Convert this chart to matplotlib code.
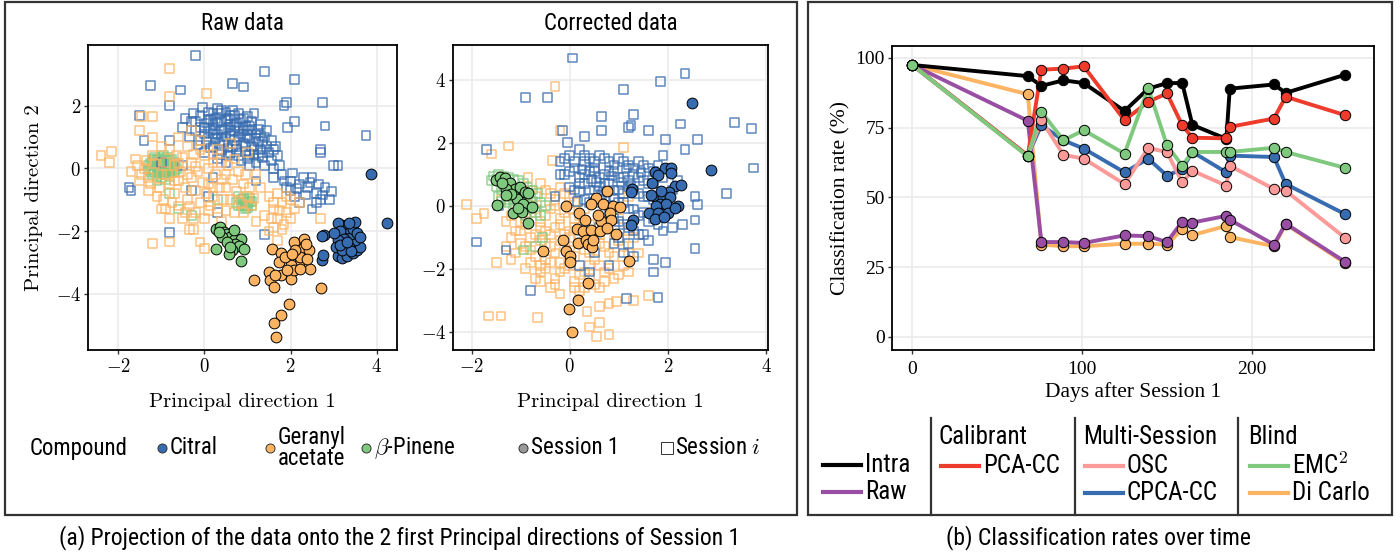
import numpy as np
import matplotlib
matplotlib.use("Agg")
import matplotlib.pyplot as plt
from matplotlib.lines import Line2D
from matplotlib.patches import Rectangle
from matplotlib.ticker import FuncFormatter

plt.rcParams['mathtext.fontset'] = 'cm'

SANS = ['Roboto Condensed', 'Liberation Sans Narrow', 'Lato', 'DejaVu Sans']
SERIF = ['Liberation Serif', 'DejaVu Serif']
CM = ['cmr10', 'DejaVu Serif']

BLUE = "#386CB0"
ORANGE = "#FDB462"
GREEN = "#7FC97F"

# ---------------- panel (a) raw data ----------------
raw_blue_s1 = [(3.87, -0.17), (4.23, -1.74), (2.77, -2.12), (2.74, -2.16), (2.72, -2.92), (2.76, -2.78),
               (3.1, -2.8), (3.2, -2.85), (3.3, -2.8), (3.45, -2.7), (3.55, -2.6), (3.6, -2.5), (3.5, -2.3),
               (3.4, -2.1), (3.3, -1.9), (3.2, -1.8), (3.1, -1.75), (3.15, -2.0), (3.25, -2.25), (3.35, -2.5),
               (3.45, -1.95), (3.55, -2.05), (3.6, -2.2), (3.1, -2.3), (3.05, -2.5), (3.2, -2.6), (3.4, -2.65),
               (3.5, -1.7), (3.35, -1.75), (3.0, -2.05), (3.15, -2.45), (3.3, -2.35)]
raw_orange_s1 = [(1.57, -2.56), (1.77, -2.69), (2.07, -2.35), (2.31, -2.27), (2.27, -2.56), (2.42, -2.61),
                 (2.46, -3.2), (2.19, -3.04), (2.0, -3.09), (1.73, -2.99), (1.49, -3.3), (1.53, -3.57),
                 (1.61, -3.78), (1.78, -3.41), (2.0, -3.52), (2.07, -3.25), (1.15, -3.57), (2.71, -3.81),
                 (1.97, -4.32), (1.77, -4.69), (1.61, -4.94), (1.67, -5.4), (2.23, -2.82), (2.39, -2.88),
                 (1.88, -2.82), (2.11, -2.61), (1.92, -3.25), (1.64, -3.41), (2.23, -3.2), (2.35, -2.4),
                 (2.04, -2.72)]
raw_green_s1 = [(0.26, -1.92), (0.37, -1.87), (0.45, -2.03), (0.53, -2.08), (0.6, -2.19), (0.68, -2.29),
                (0.84, -2.27), (0.72, -2.42), (0.8, -2.48), (0.91, -2.56), (0.64, -2.61), (0.57, -2.72),
                (0.84, -2.95), (0.26, -2.56), (0.41, -2.19), (0.33, -2.03), (0.53, -2.35), (0.68, -1.97),
                (0.6, -2.5)]
raw_blue_si = [(-0.2, 3.6), (1.4, 3.1), (0.65, 2.7), (0.9, 2.6), (2.1, 2.85), (1.9, 2.1), (1.85, 2.0),
               (2.75, 2.1), (2.1, 1.5), (1.93, 1.3), (2.8, 1.35), (3.75, 1.05), (-1.25, 2.65), (-0.55, 2.5),
               (-0.8, 2.0), (-1.5, 1.7), (-1.4, 0.9), (-1.7, -0.7), (-1.75, -0.6), (-0.8, -2.05), (2.7, 0.6),
               (2.7, 0.5), (3.1, 0.1), (3.0, 0.1), (2.7, -1.0), (2.9, -1.0), (2.5, -1.3), (2.0, -0.7),
               (1.4, -2.1), (0.3, -1.4),
               (-0.3, 1.5), (-0.1, 1.7), (0.1, 1.8), (0.3, 1.9), (0.5, 1.8), (0.7, 1.7), (0.9, 1.6), (1.1, 1.5),
               (1.3, 1.4), (-0.2, 1.2), (0.0, 1.3), (0.2, 1.4), (0.4, 1.5), (0.6, 1.4), (0.8, 1.3), (1.0, 1.2),
               (1.2, 1.1), (1.4, 1.0), (-0.1, 0.9), (0.1, 1.0), (0.3, 1.1), (0.5, 1.0), (0.7, 0.9), (0.9, 0.8),
               (1.1, 0.7), (1.3, 0.6), (1.5, 0.5), (0.2, 0.7), (0.4, 0.6), (0.6, 0.5), (0.8, 0.4), (1.0, 0.3),
               (1.2, 0.2), (1.4, 0.1), (1.6, 0.0), (0.0, 0.5), (0.3, 0.3), (0.5, 0.2), (1.8, -0.2), (2.0, -0.4),
               (2.2, -0.5), (2.4, -0.6), (2.6, -0.8), (2.3, -0.3), (2.5, -0.3), (1.9, -0.6), (2.1, -0.9),
               (2.8, -0.6), (2.6, -1.1), (1.7, 0.4), (1.6, -0.3), (1.2, -0.4), (0.7, 1.2), (0.25, 1.6),
               (0.55, 1.6), (0.85, 1.1), (1.05, 0.95), (0.15, 1.2), (0.45, 0.85), (0.65, 0.7), (0.95, 0.55),
               (-0.5, 0.1), (-0.3, -0.7), (0.1, -0.9), (-0.8, 0.9), (-0.5, 1.3), (0.2, -0.3), (-1.0, 0.2),
               (-0.25, 1.75), (-0.05, 1.95), (0.15, 1.55), (0.35, 1.75), (0.45, 1.25), (0.65, 1.85), (0.75, 1.45),
               (0.95, 1.35), (1.15, 1.75), (1.25, 1.25), (1.35, 0.85), (1.45, 1.2), (-0.15, 0.75), (0.05, 0.85),
               (0.25, 0.95), (0.35, 0.45), (0.55, 0.4), (0.75, 0.6), (0.85, 0.25), (1.05, 0.1), (1.15, 0.45),
               (1.25, 0.85), (1.35, 0.35), (1.55, 0.25), (1.65, 0.7), (1.75, 0.1), (1.85, -0.4), (2.05, -0.15),
               (2.15, -0.65), (2.35, -0.85), (2.45, -0.45), (2.65, -0.5), (2.75, -0.85), (2.95, -0.75),
               (2.2, -1.1), (0.05, 1.45), (0.25, 1.25), (0.55, 1.3), (0.85, 1.55), (1.05, 1.35), (0.6, 1.05),
               (0.4, 1.2), (0.15, 0.65), (0.95, 1.0), (1.55, 0.9), (1.6, 0.6), (-0.35, 1.0), (-0.45, 1.6),
               (0.0, 1.1), (0.2, 1.1), (0.4, 1.0), (0.6, 1.2), (0.8, 1.0), (1.0, 1.05), (1.2, 0.95), (0.1, 1.55),
               (0.3, 1.45), (0.5, 1.55), (0.7, 1.35), (0.9, 1.2), (1.1, 1.25), (1.3, 1.05), (0.35, 0.8),
               (0.55, 0.65), (0.75, 0.75), (0.95, 0.7), (1.15, 0.6), (1.35, 0.5), (0.6, 1.7), (0.8, 1.75),
               (1.0, 1.65), (0.2, 1.75), (0.4, 1.85), (-0.1, 1.3), (-0.2, 1.5), (1.45, 0.7), (1.25, 0.4),
               (1.05, 0.45)]
raw_orange_si = [(-0.8, 3.2), (-0.8, 2.3), (0.05, 2.4), (-1.2, 1.65), (-1.45, 1.65), (-2.4, 0.4), (-2.15, 0.55),
                 (-2.2, 0.2), (-1.5, 1.2), (-1.2, -2.4), (-0.8, -2.35), (-0.35, -1.95), (-0.25, -1.95),
                 (-0.1, -2.35), (0.0, -2.55), (2.7, -1.6), (1.6, -1.9), (1.5, -2.0), (1.7, -2.3),
                 (-1.6, 0.3), (-1.4, 0.0), (-1.5, -0.4), (-1.3, -0.7), (-1.2, 0.4), (-1.0, -0.2), (-1.1, -0.9),
                 (-0.9, -1.3), (-0.8, 0.6), (-0.7, 0.1), (-0.6, -0.4), (-0.7, -0.8), (-0.6, -1.2), (-0.5, -1.6),
                 (-0.4, 0.7), (-0.3, 0.2), (-0.3, -0.3), (-0.2, -0.7), (-0.1, -1.1), (-0.2, -1.4), (0.0, 0.4),
                 (0.1, 0.0), (0.1, -0.5), (0.2, -0.9), (0.3, -1.3), (0.0, -1.6), (0.3, 0.6), (0.4, 0.2),
                 (0.5, -0.2), (0.5, -0.6), (0.6, -1.0), (0.7, -1.4), (0.7, 0.3), (0.8, -0.1), (0.9, -0.5),
                 (1.0, -0.9), (1.1, -1.2), (1.0, 0.5), (1.2, -0.2), (1.3, -0.6), (1.5, -0.9), (1.7, -0.8),
                 (1.8, -1.1), (1.9, -1.4), (1.7, -1.6), (2.0, -1.0), (2.1, -1.3), (1.85, -1.8), (1.6, -1.3),
                 (-0.9, 0.2), (-1.3, -0.3), (-0.4, -1.0), (-0.8, -0.5), (0.2, 0.2), (-0.5, 0.35), (-1.0, 0.7),
                 (-1.7, -0.1), (0.4, -1.7), (-0.1, 0.9), (0.6, 0.8), (-0.6, 1.0), (1.4, -1.5), (1.2, -1.7),
                 (-1.2, 1.0), (-0.3, 1.2),
                 (-1.55, 0.1), (-1.45, -0.2), (-1.35, 0.25), (-1.25, -0.5), (-1.15, 0.15), (-1.05, -0.6),
                 (-0.95, -1.0), (-0.85, -0.2), (-0.75, -1.1), (-0.65, 0.4), (-0.55, -0.1), (-0.45, -0.6),
                 (-0.35, -1.2), (-0.25, 0.45), (-0.15, -0.1), (-0.05, -0.45), (0.05, -0.8), (0.15, -1.2),
                 (0.25, -0.2), (0.35, -0.6), (0.45, -1.0), (0.55, 0.1), (0.65, -0.35), (0.75, -0.75),
                 (0.85, -1.1), (0.95, -0.2), (1.05, -0.6), (1.15, -0.95), (-0.45, -1.4), (-0.25, -1.6),
                 (0.1, -1.35), (0.5, -1.35), (-0.8, -1.6), (-0.6, 0.15), (-0.2, 0.05), (0.2, -0.6), (0.4, -0.35),
                 (-0.4, -0.2), (-1.0, -1.3), (-0.1, 0.6), (0.2, 0.45), (-0.7, -0.4), (1.6, -1.1), (1.75, -1.35),
                 (1.9, -0.9), (2.0, -1.6), (1.55, -1.6), (1.8, -1.95), (2.2, -1.1), (0.9, -1.4)]
raw_green_si = [(-1.2, 0.2), (-1.1, 0.3), (-1.0, 0.35), (-0.9, 0.3), (-0.8, 0.25), (-0.7, 0.2), (-1.2, 0.0),
                (-1.1, 0.05), (-1.0, 0.1), (-0.9, 0.05), (-0.8, 0.0), (-0.7, 0.05), (-1.15, -0.15),
                (-1.05, -0.1), (-0.95, -0.15), (-0.85, -0.1), (-0.75, -0.15), (-1.3, 0.1), (-0.65, 0.0),
                (-1.0, -0.3), (-0.9, -0.35), (-1.1, -0.4), (0.8, -0.9), (0.9, -1.0), (1.0, -1.1), (0.85, -1.2),
                (0.95, -1.3), (1.05, -0.95), (0.75, -1.1), (1.1, -1.2), (-0.8, -0.8), (-0.6, -1.3),
                (-0.3, -1.5), (0.3, -1.0),
                (-1.25, 0.15), (-1.15, 0.25), (-1.05, 0.2), (-0.95, 0.2), (-0.85, 0.15), (-0.75, 0.1),
                (-1.25, -0.1), (-1.15, -0.05), (-1.05, 0.0), (-0.95, -0.05), (-0.85, -0.05), (-0.75, -0.05),
                (-1.1, -0.25), (-1.0, -0.2), (-0.9, -0.2), (-0.8, -0.25), (-0.7, -0.1), (-1.05, 0.3),
                (-0.85, 0.35), (0.85, -1.0), (0.95, -1.1), (0.9, -1.2), (1.0, -1.25), (0.8, -1.2), (1.05, -1.05),
                (-1.2, 0.3), (-1.1, 0.15), (-1.0, 0.25), (-0.9, 0.15), (-0.8, 0.1), (-0.7, -0.05), (-1.2, -0.2),
                (-1.1, -0.1), (-1.0, -0.05), (-0.9, -0.1), (-0.8, -0.15), (-0.95, 0.4), (-1.15, 0.35),
                (-0.75, 0.3), (-1.3, -0.05), (0.9, -0.95), (1.0, -1.2), (0.85, -1.1), (0.95, -1.2), (1.1, -1.05)]

# ---------------- panel (a) corrected data ----------------
cor_green_s1 = [(-1.51, 0.82), (-1.42, 0.92), (-1.32, 0.87), (-1.49, 0.02), (-1.22, 0.71), (-1.12, 0.55),
                (-1.02, 0.6), (-0.92, 0.44), (-0.85, 0.41), (-1.08, 0.23), (-0.95, 0.07), (-0.78, -0.03),
                (-1.15, -0.24), (-0.98, -0.19), (-0.86, -0.56), (-1.29, 0.55), (-1.39, 0.71), (-1.19, 0.39),
                (-1.05, -0.08), (-1.29, 0.34)]
cor_orange_s1 = [(0.76, 0.48), (0.53, 0.26), (0.44, 0.05), (0.68, 0.07), (0.88, 0.0), (-0.07, 0.0), (0.18, -0.22),
                 (0.81, -0.24), (0.64, -0.48), (0.85, -0.46), (0.14, -0.72), (0.26, -0.79), (0.44, -0.77),
                 (0.61, -0.79), (0.75, -0.69), (0.95, -0.91), (-0.14, -1.09), (0.17, -1.18), (0.34, -1.07),
                 (0.37, -1.22), (0.46, -1.32), (-0.08, -1.43), (0.0, -1.6), (0.01, -1.78), (-0.54, -1.43),
                 (1.21, -1.75), (0.38, -2.44), (0.16, -3.0), (-0.01, -3.29), (0.05, -4.0), (0.58, -0.3),
                 (0.31, -0.46), (1.02, -0.03), (0.47, -1.07)]
cor_blue_s1 = [(2.49, 3.28), (2.87, 1.13), (1.95, 1.21), (2.07, 1.21), (1.73, 1.08), (1.8, 0.97), (2.07, 1.03),
               (1.68, 0.71), (2.14, 0.64), (2.26, 0.66), (1.27, 0.53), (1.24, 0.44), (2.03, 0.44), (1.76, 0.29),
               (1.9, 0.29), (2.05, 0.29), (1.83, 0.07), (1.97, 0.07), (1.75, 0.0), (2.2, 0.0), (1.86, 0.47),
               (1.61, -0.22), (1.8, -0.24), (2.0, -0.24), (1.73, -0.42), (1.93, -0.35), (1.29, -0.46),
               (1.24, -0.61), (2.14, -0.08), (1.66, 0.34)]
cor_blue_si = [(0.05, 4.7), (1.1, 3.7), (1.85, 3.95), (2.35, 4.2), (-0.45, 3.45), (-0.9, 3.45), (0.65, 2.85),
               (1.3, 2.9), (0.65, 2.4), (1.2, 2.5), (1.25, 2.55), (1.6, 2.4), (2.25, 2.6), (1.95, 2.1),
               (2.35, 1.8), (2.6, 2.1), (3.35, 2.65), (3.7, 2.45), (3.75, 1.2), (3.2, 0.4), (2.55, 0.3),
               (2.6, 0.05), (2.55, -0.45), (2.55, -1.35), (2.3, -0.6), (-1.7, 1.8), (-1.45, 0.0), (-1.9, -1.15),
               (-1.3, -1.4), (-0.8, -2.7), (1.8, -2.9), (1.15, -2.95), (1.7, -2.1), (1.95, -1.8), (1.7, -1.7),
               (-0.05, 2.0), (-0.15, 2.4), (0.3, 2.2), (-0.2, 1.0), (0.5, 1.2),
               (-0.2, 1.4), (0.0, 1.6), (0.2, 1.8), (0.4, 1.5), (0.6, 1.6), (0.8, 1.4), (1.0, 1.5), (1.2, 1.3),
               (1.4, 1.4), (1.6, 1.2), (1.8, 1.3), (-0.1, 1.0), (0.1, 1.2), (0.3, 1.0), (0.5, 1.1), (0.7, 1.0),
               (0.9, 1.1), (1.1, 0.9), (1.3, 1.0), (1.5, 0.8), (1.7, 0.7), (0.0, 0.6), (0.2, 0.7), (0.4, 0.5),
               (0.6, 0.6), (0.8, 0.7), (1.0, 0.5), (1.2, 0.6), (1.4, 0.4), (1.6, 0.3), (0.3, 0.2), (0.5, 0.1),
               (0.7, 0.3), (0.9, 0.2), (1.1, 0.1), (1.3, -0.1), (1.5, -0.2), (1.7, -0.4), (0.8, -0.3),
               (1.0, -0.5), (1.2, -0.7), (1.4, -0.9), (1.6, -1.1), (1.9, -0.8), (2.1, -0.7), (0.6, -0.7),
               (0.9, -1.2), (1.1, -1.5), (1.3, -1.6), (0.3, 1.4), (0.85, 0.95), (1.15, 1.2), (0.45, 0.85),
               (0.65, 0.35), (1.05, 0.75), (0.2, 0.45), (-0.3, 0.3), (2.0, 0.4), (2.2, 0.8), (1.9, 1.6),
               (0.5, -1.5), (0.2, -1.9), (0.4, -2.1), (0.8, -1.9),
               (-0.1, 1.5), (0.1, 1.4), (0.3, 1.6), (0.5, 1.4), (0.7, 1.5), (0.9, 1.3), (1.1, 1.4), (1.3, 1.2),
               (1.5, 1.3), (1.7, 1.1), (0.0, 1.1), (0.2, 0.9), (0.4, 1.1), (0.6, 0.9), (0.8, 1.1), (1.0, 0.9),
               (1.2, 0.8), (1.4, 0.9), (1.6, 0.7), (0.1, 0.5), (0.3, 0.7), (0.5, 0.5), (0.7, 0.7), (0.9, 0.5),
               (1.1, 0.4), (1.3, 0.5), (1.5, 0.3), (1.7, 0.2), (0.4, 0.1), (0.6, 0.2), (0.8, 0.0), (1.0, 0.1),
               (1.2, -0.1), (1.4, -0.3), (1.6, -0.5), (0.9, -0.4), (1.1, -0.6), (1.3, -0.8), (1.5, -0.9),
               (1.8, -0.6), (2.0, -0.2), (1.9, 0.9), (2.1, 0.5), (0.25, 1.15), (0.55, 0.75), (0.75, 0.45),
               (1.25, 0.65), (1.45, 1.05), (0.15, 0.15), (1.0, -1.0), (1.2, -1.2)]
cor_orange_si = [(-0.3, 3.8), (-1.25, 1.9), (-1.6, 1.65), (-0.2, 2.4), (1.1, 1.85), (-2.1, 0.05), (-1.9, -0.4),
                 (-1.75, -0.25), (-0.35, 1.45), (-1.65, -3.5), (-1.4, -3.5), (-0.65, -3.55), (0.35, -3.35),
                 (0.6, -3.2), (0.95, -3.05), (0.8, -3.1), (1.3, -3.0), (0.4, -3.85), (0.6, -3.7), (0.8, -4.1),
                 (0.55, -4.15), (1.6, -2.85), (1.2, -2.1), (1.4, -1.5), (-0.5, -1.7),
                 (-1.2, 0.6), (-1.0, 0.3), (-0.8, 0.5), (-0.6, 0.7), (-0.4, 0.4), (-0.2, 0.6), (0.0, 0.3),
                 (-1.3, -0.5), (-1.1, -0.2), (-0.9, -0.4), (-0.7, -0.1), (-0.5, -0.3), (-0.3, 0.0), (-0.1, -0.2),
                 (0.1, -0.4), (0.3, -0.1), (-1.2, -1.0), (-1.0, -0.8), (-0.8, -1.0), (-0.6, -0.7), (-0.4, -0.9),
                 (-0.2, -0.6), (0.0, -0.8), (0.2, -1.0), (0.4, -0.6), (0.6, -0.9), (-1.1, -1.5), (-0.9, -1.3),
                 (-0.7, -1.6), (-0.5, -1.2), (-0.3, -1.5), (-0.1, -1.3), (0.1, -1.6), (0.3, -1.4), (0.5, -1.7),
                 (0.7, -1.3), (0.9, -1.6), (1.1, -1.3), (-0.9, -2.0), (-0.7, -2.3), (-0.5, -2.0), (-0.3, -2.3),
                 (-0.1, -2.0), (0.1, -2.4), (0.3, -2.1), (0.5, -2.5), (0.7, -2.1), (0.9, -2.3), (1.1, -1.9),
                 (-0.4, -2.6), (0.2, -2.7), (-0.2, -2.8), (0.6, -2.6), (1.3, -1.0), (0.8, -0.5), (-0.6, -1.9),
                 (-1.3, -1.3), (0.0, -1.0), (-0.2, -1.8), (0.4, -1.9), (-1.4, 0.2), (-0.85, 0.9), (1.0, -0.4),
                 (1.2, 0.3), (-1.5, -1.8),
                 (-1.1, 0.4), (-0.9, 0.1), (-0.7, 0.3), (-0.5, 0.5), (-0.3, 0.2), (-0.1, 0.4), (0.1, 0.1),
                 (-1.2, -0.3), (-1.0, -0.5), (-0.8, -0.2), (-0.6, -0.5), (-0.4, -0.1), (-0.2, -0.4), (0.0, -0.1),
                 (0.2, -0.3), (-1.1, -0.8), (-0.9, -0.6), (-0.7, -0.9), (-0.5, -0.8), (-0.3, -0.7), (-0.1, -0.9),
                 (0.1, -0.7), (0.3, -0.9), (0.5, -0.8), (-1.0, -1.2), (-0.8, -1.4), (-0.6, -1.1), (-0.4, -1.3),
                 (-0.2, -1.1), (0.0, -1.4), (0.2, -1.2), (0.4, -1.5), (0.6, -1.2), (0.8, -1.5), (1.0, -1.1),
                 (-0.8, -1.8), (-0.6, -2.1), (-0.4, -1.8), (-0.2, -2.1), (0.0, -1.9), (0.2, -2.2), (0.4, -2.3),
                 (0.6, -1.9), (0.8, -2.0), (1.0, -2.2), (-0.3, -2.5), (0.1, -2.6), (0.3, -2.6), (-0.6, -2.4),
                 (0.7, -2.4), (1.2, -1.5), (1.2, -0.8), (-1.2, -1.7), (0.7, -0.6), (0.9, -0.9)]
cor_green_si = [(-1.55, 0.95), (-1.45, 1.0), (-1.35, 0.95), (-1.25, 0.9), (-1.15, 0.85), (-1.05, 0.8),
                (-0.95, 0.7), (-0.85, 0.6), (-0.75, 0.5), (-0.65, 0.4), (-1.5, 0.6), (-1.4, 0.5), (-1.3, 0.4),
                (-1.2, 0.3), (-1.1, 0.2), (-1.0, 0.1), (-0.9, 0.0), (-0.8, -0.1), (-0.7, -0.2), (-1.6, 0.8),
                (-1.2, 0.65), (-1.0, 0.45), (-0.8, 0.25), (-0.6, 0.1), (-0.5, 0.0), (-1.3, 0.1), (-1.1, -0.1),
                (-0.9, -0.3), (-1.45, 0.3), (-0.7, -1.3), (-0.55, -1.0), (-0.95, -1.4),
                (-1.5, 0.85), (-1.4, 0.8), (-1.3, 0.7), (-1.2, 0.5), (-1.1, 0.55), (-1.0, 0.3), (-0.9, 0.35),
                (-0.85, 0.1), (-0.75, 0.15), (-1.35, 0.6), (-1.25, 0.2), (-1.15, 0.0), (-1.0, -0.15),
                (-0.6, -0.3), (-1.4, 0.15)]

# ---------------- panel (b) classification rates ----------------
days = [0, 68, 76, 89, 101, 125, 139, 150, 159, 165, 185, 187, 213, 220, 255]
intra = [97.5, 93.5, 90.0, 92.0, 91.0, 81.0, 89.0, 91.0, 91.0, 76.0, 71.0, 89.0, 90.5, 87.5, 94.0]
raw = [97.5, 77.5, 34.0, 34.0, 33.7, 36.4, 36.1, 34.0, 41.3, 41.0, 43.4, 42.0, 33.1, 40.6, 26.9]
pca_cc = [97.5, 65.0, 95.8, 96.2, 97.0, 77.7, 84.3, 87.3, 75.9, 71.4, 71.2, 75.3, 78.3, 86.1, 79.5]
osc = [97.5, 65.0, 77.7, 65.3, 63.9, 54.8, 67.7, 66.3, 55.4, 59.6, 54.2, 61.4, 53.0, 52.4, 35.5]
cpca_cc = [97.5, 65.0, 75.9, 70.5, 67.5, 59.0, 63.9, 57.8, 60.2, 66.3, 59.0, 65.0, 64.5, 54.8, 44.0]
emc2 = [97.5, 64.7, 80.7, 70.5, 74.1, 65.7, 89.2, 68.7, 61.4, 66.3, 66.3, 66.3, 67.8, 66.3, 60.6]
di_carlo = [97.5, 87.0, 33.1, 32.5, 32.5, 33.4, 33.4, 33.1, 38.6, 36.5, 39.8, 35.8, 32.5, 40.4, 26.5]

series = [("Di Carlo", di_carlo, "#FDB462"), ("Raw", raw, "#984EA3"), ("CPCA-CC", cpca_cc, "#386CB0"),
          ("OSC", osc, "#FB9A99"), ("Intra", intra, "black"), ("PCA-CC", pca_cc, "#EF3B2C"),
          ("EMC$^2$", emc2, "#7FC97F")]


def fx(px):
    return px / 1400.0


def fy(py):
    return 1 - py / 554.0


fig = plt.figure(figsize=(14, 5.54), dpi=100)

for x0, x1 in [(5, 797), (808, 1392)]:
    fig.add_artist(Rectangle((fx(x0), fy(515)), fx(x1 - x0), (515 - 2) / 554.0, transform=fig.transFigure,
                             fill=False, ec="#333333", lw=1.6))


def style_axes(ax):
    ax.set_facecolor("white")
    ax.grid(True, color="#ebebeb", lw=1.2)
    ax.set_axisbelow(True)
    for sp in ax.spines.values():
        sp.set_color("black")
        sp.set_linewidth(1.3)
    ax.tick_params(length=3, width=1, color="#333333", pad=2)


def cm_fmt(v, p):
    return "$%g$" % v


def draw_scatter(ax, sq, circ, xlim, ylim, xt, yt, title):
    # sq and circ are lists of (points, colour)
    for pts, col in sq:
        a = np.array(pts)
        ax.scatter(a[:, 0], a[:, 1], s=40, marker="s", facecolors="none", edgecolors=col,
                   linewidths=1.1, alpha=0.8, zorder=2)
    for pts, col in circ:
        a = np.array(pts)
        ax.scatter(a[:, 0], a[:, 1], s=60, marker="o", facecolors=col, edgecolors="black",
                   linewidths=0.7, zorder=3)
    ax.set_xlim(*xlim)
    ax.set_ylim(*ylim)
    ax.set_xticks(xt)
    ax.set_yticks(yt)
    ax.xaxis.set_major_formatter(FuncFormatter(cm_fmt))
    ax.yaxis.set_major_formatter(FuncFormatter(cm_fmt))
    ax.tick_params(labelsize=13.5)
    style_axes(ax)
    ax.set_xlabel("Principal direction 1", family=CM, fontsize=15, labelpad=12)
    ax.set_title(title, family=SANS, fontsize=16.5, pad=11)


ax1 = fig.add_axes([fx(88), fy(350), fx(397 - 88), 305 / 554.0])
draw_scatter(ax1, [(raw_green_si, GREEN), (raw_blue_si, BLUE), (raw_orange_si, ORANGE)],
             [(raw_green_s1, GREEN), (raw_orange_s1, ORANGE), (raw_blue_s1, BLUE)],
             (-2.70, 4.47), (-5.8, 3.94), [-2, 0, 2, 4], [-4, -2, 0, 2], "Raw data")
ax1.set_ylabel("Principal direction 2", family=CM, fontsize=15, labelpad=9)

ax2 = fig.add_axes([fx(453), fy(350), fx(768 - 453), 305 / 554.0])
draw_scatter(ax2, [(cor_orange_si, ORANGE), (cor_blue_si, BLUE), (cor_green_si, GREEN)],
             [(cor_green_s1, GREEN), (cor_orange_s1, ORANGE), (cor_blue_s1, BLUE)],
             (-2.38, 4.04), (-4.58, 5.11), [-2, 0, 2, 4], [-4, -2, 0, 2, 4], "Corrected data")

# legend of panel (a)
ly = fy(448)
fig.text(fx(30), ly, "Compound", family=SANS, fontsize=16.5, va="center")
items = [(162, BLUE, "o", "Citral"), (270, ORANGE, "o", "Geranyl\nacetate"), (366, GREEN, "o", r"$\beta$-Pinene"),
         (523, "#999999", "o", "Session 1"), (667, "none", "s", r"Session $i$")]
for px, col, mk, lab in items:
    fig.add_artist(Line2D([fx(px)], [ly], transform=fig.transFigure, marker=mk, ls="none",
                          markersize=6.5 if mk == "o" else 8, markerfacecolor=col,
                          markeredgecolor="#333333", markeredgewidth=0.7))
    fig.text(fx(px + 8), ly, lab, family=SANS, fontsize=16.5, va="center", linespacing=0.85)

fig.text(fx(400), fy(538), "(a) Projection of the data onto the 2 first Principal directions of Session 1",
         family=SANS, fontsize=17, ha="center", va="center")

# ---------------- panel (b) ----------------
ax3 = fig.add_axes([fx(892), fy(350), fx(1374 - 892), 304 / 554.0])
handles = {}
for name, vals, col in series:
    ln, = ax3.plot(days, vals, color=col, lw=2.8, zorder=2, solid_joinstyle="round")
    handles[name] = ln
for name, vals, col in series:
    ax3.plot(days, vals, ls="none", marker="o", markersize=7.5, markerfacecolor=col,
             markeredgecolor="black", markeredgewidth=0.7, zorder=3)
ax3.set_xlim(-12, 272)
ax3.set_ylim(-4.7, 104.3)
ax3.set_xticks([0, 100, 200])
ax3.set_yticks([0, 25, 50, 75, 100])
ax3.xaxis.set_major_formatter(FuncFormatter(lambda v, p: "%g" % v))
ax3.yaxis.set_major_formatter(FuncFormatter(lambda v, p: "%g" % v))
style_axes(ax3)
ax3.tick_params(labelsize=14)
ax3.tick_params(axis="x", pad=5)
for t in ax3.get_xticklabels() + ax3.get_yticklabels():
    t.set_family(SERIF)
ax3.set_xlabel("Days after Session 1", family=SERIF, fontsize=15.5, labelpad=3)
ax3.set_ylabel("Classification rate (%)", family=SERIF, fontsize=15.5, labelpad=4)

# legend of panel (b)
for px in [931, 1075, 1238]:
    fig.add_artist(Line2D([fx(px), fx(px)], [fy(418), fy(515)], transform=fig.transFigure,
                          color="#333333", lw=1.6))
groups = [(None, 823, [("Intra", 465), ("Raw", 492)]),
          ("Calibrant", 941, [("PCA-CC", 466)]),
          ("Multi-Session", 1085, [("OSC", 466), ("CPCA-CC", 493)]),
          ("Blind", 1250, [("EMC$^2$", 466), ("Di Carlo", 493)])]
for title, x0, entries in groups:
    if title:
        fig.text(fx(x0 - 2), fy(437), title, family=SANS, fontsize=18, va="center")
    for name, py in entries:
        col = handles[name].get_color()
        fig.add_artist(Line2D([fx(x0), fx(x0 + 38)], [fy(py), fy(py)], transform=fig.transFigure,
                              color=col, lw=3))
        fig.text(fx(x0 + 42), fy(py), name, family=SANS, fontsize=18, va="center")

fig.text(fx(1098), fy(538), "(b) Classification rates over time", family=SANS, fontsize=17,
         ha="center", va="center")

fig.savefig("out.png", dpi=100)
